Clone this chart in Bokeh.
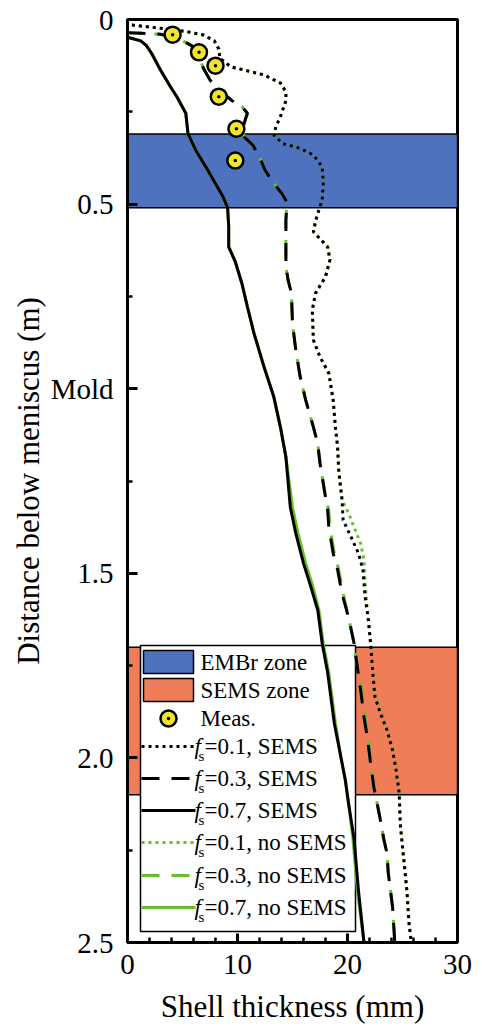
from bokeh.plotting import figure
from bokeh.models import Range1d, FixedTicker
from bokeh.core.properties import value
from bokeh.embed import file_html
from bokeh.resources import INLINE

SERIF = "Liberation Serif"
BLUE = "#4F72BE"
ORANGE = "#EE7D58"
YELLOW = "#F2E42A"
GREEN = "#66BF2A"

# ---- data -----------------------------------------------------------------
x_limits = [0, 30]          # shell thickness (mm)
y_limits = [2.5, 0]         # distance below meniscus (m), downward
x_ticks = [0, 10, 20, 30]
x_minor = [2, 4, 6, 8, 12, 14, 16, 18, 22, 24, 26, 28]
y_ticks = [0, 0.5, 1.0, 1.5, 2.0, 2.5]
y_minor = [0.25, 0.75, 1.25, 1.75, 2.25]
y_tick_labels = ["0", "0.5", "Mold", "1.5", "2.0", "2.5"]

embr_zone = [0.31, 0.51]
sems_zone = [1.70, 2.10]

meas_thick = [4.1, 6.5, 8.0, 8.3, 9.9, 9.8]
meas_depth = [0.041, 0.089, 0.125, 0.209, 0.296, 0.382]

# fs = 0.1, SEMS
depth_01_sems = [0.015, 0.022, 0.027, 0.033, 0.042, 0.058, 0.080, 0.105, 0.128, 0.137,
                 0.150, 0.172, 0.196, 0.220, 0.263, 0.290, 0.313, 0.336, 0.349, 0.367,
                 0.399, 0.443, 0.489, 0.516, 0.545, 0.575, 0.616, 0.651, 0.697, 0.741,
                 0.787, 0.868, 0.914, 0.958, 1.031, 1.104, 1.158, 1.221, 1.300, 1.356,
                 1.400, 1.446, 1.490, 1.564, 1.627, 1.690, 1.770, 1.835, 1.880, 1.925,
                 1.980, 2.030, 2.096, 2.180, 2.270, 2.360, 2.450, 2.500]
thick_01_sems = [0.4, 2.5, 3.9, 5.4, 6.9, 7.9, 8.3, 8.4, 9.4, 10.6,
                 12.4, 13.9, 14.4, 14.4, 13.9, 13.5, 13.3, 14.1, 15.7, 16.9,
                 17.7, 17.8, 17.7, 17.4, 17.1, 16.9, 18.2, 18.4, 18.0, 17.1,
                 16.8, 16.9, 17.5, 18.3, 18.7, 18.9, 19.1, 19.2, 19.5, 19.6,
                 20.3, 21.0, 21.4, 21.6, 21.9, 22.1, 22.3, 22.5, 23.0, 23.6,
                 24.1, 24.4, 24.7, 24.8, 25.1, 25.4, 25.6, 25.8]

# fs = 0.3, SEMS
depth_03_sems = [0.036, 0.037, 0.040, 0.050, 0.070, 0.100, 0.132, 0.164, 0.190, 0.220,
                 0.236, 0.254, 0.272, 0.295, 0.318, 0.340, 0.380, 0.408, 0.440, 0.470,
                 0.495, 0.543, 0.670, 0.706, 0.741, 0.823, 0.896, 0.968, 1.031, 1.104,
                 1.150, 1.202, 1.275, 1.330, 1.375, 1.446, 1.490, 1.555, 1.620, 1.690,
                 1.755, 1.817, 1.890, 1.943, 2.015, 2.080, 2.124, 2.170, 2.220, 2.260,
                 2.310, 2.405, 2.500]
thick_03_sems = [0.0, 1.3, 3.0, 4.5, 5.8, 6.5, 6.9, 7.5, 8.3, 9.5,
                 10.4, 10.9, 10.7, 10.5, 10.6, 11.4, 12.1, 12.5, 13.2, 14.0,
                 14.5, 14.4, 14.4, 14.6, 14.9, 15.0, 15.3, 15.7, 16.2, 16.9,
                 17.3, 17.5, 17.9, 18.2, 18.3, 18.7, 19.1, 19.5, 20.1, 20.6,
                 20.9, 21.2, 21.5, 21.8, 22.1, 22.4, 22.7, 23.0, 23.3, 23.6,
                 23.7, 24.1, 24.3]

# fs = 0.7, SEMS
depth_07_sems = [0.048, 0.058, 0.070, 0.092, 0.137, 0.182, 0.210, 0.254, 0.309, 0.354,
                 0.408, 0.481, 0.510, 0.560, 0.616, 0.656, 0.715, 0.778, 0.850, 0.940,
                 1.022, 1.104, 1.185, 1.321, 1.392, 1.473, 1.530, 1.600, 1.690, 1.770,
                 1.906, 1.998, 2.060, 2.124, 2.220, 2.360, 2.500]
thick_07_sems = [0.0, 1.2, 1.7, 2.2, 3.0, 3.9, 4.5, 5.3, 5.5, 6.2,
                 7.3, 8.7, 9.1, 9.2, 9.2, 9.8, 10.4, 10.9, 11.5, 12.4,
                 13.3, 13.9, 14.4, 14.8, 15.3, 16.0, 16.6, 17.3, 17.7, 18.2,
                 18.8, 19.4, 19.8, 20.1, 20.6, 21.0, 21.5]

# fs = 0.1, no SEMS
depth_01_none = [0.015, 0.022, 0.027, 0.033, 0.042, 0.058, 0.080, 0.105, 0.128, 0.137,
                 0.150, 0.172, 0.196, 0.220, 0.263, 0.290, 0.313, 0.336, 0.349, 0.367,
                 0.399, 0.443, 0.489, 0.516, 0.545, 0.575, 0.616, 0.651, 0.697, 0.741,
                 0.787, 0.868, 0.914, 0.958, 1.031, 1.104, 1.158, 1.221, 1.300, 1.338,
                 1.375, 1.420, 1.465, 1.520, 1.564, 1.627, 1.690, 1.770, 1.835, 1.880,
                 1.925, 1.980, 2.030, 2.096, 2.180, 2.270, 2.360, 2.450, 2.500]
thick_01_none = [0.4, 2.5, 3.9, 5.4, 6.9, 7.9, 8.3, 8.4, 9.4, 10.6,
                 12.4, 13.9, 14.4, 14.4, 13.9, 13.5, 13.3, 14.1, 15.7, 16.9,
                 17.7, 17.8, 17.7, 17.4, 17.1, 16.9, 18.2, 18.4, 18.0, 17.1,
                 16.8, 16.9, 17.5, 18.3, 18.7, 18.9, 19.1, 19.2, 19.5, 20.1,
                 20.6, 21.2, 21.5, 21.6, 21.7, 21.9, 22.1, 22.3, 22.6, 23.1,
                 23.6, 24.1, 24.4, 24.7, 24.8, 25.1, 25.4, 25.6, 25.8]

# fs = 0.3, no SEMS
depth_03_none = [0.036, 0.037, 0.040, 0.050, 0.070, 0.100, 0.132, 0.164, 0.190, 0.220,
                 0.236, 0.254, 0.272, 0.295, 0.318, 0.340, 0.380, 0.408, 0.440, 0.470,
                 0.495, 0.543, 0.670, 0.706, 0.741, 0.823, 0.896, 0.968, 1.031, 1.104,
                 1.150, 1.202, 1.275, 1.330, 1.375, 1.446, 1.490, 1.555, 1.620, 1.690,
                 1.755, 1.817, 1.890, 1.943, 2.015, 2.080, 2.124, 2.170, 2.220, 2.260,
                 2.310, 2.405, 2.500]
thick_03_none = [0.0, 1.3, 3.0, 4.5, 5.8, 6.5, 6.9, 7.5, 8.3, 9.5,
                 10.4, 10.9, 10.7, 10.5, 10.6, 11.4, 12.1, 12.5, 13.2, 14.0,
                 14.5, 14.4, 14.4, 14.6, 14.9, 15.0, 15.3, 15.7, 16.2, 16.9,
                 17.3, 17.5, 17.9, 18.3, 18.4, 18.8, 19.2, 19.6, 20.1, 20.6,
                 20.9, 21.3, 21.6, 21.9, 22.1, 22.4, 22.7, 23.0, 23.3, 23.6,
                 23.7, 24.1, 24.3]

# fs = 0.7, no SEMS
depth_07_none = [0.048, 0.058, 0.070, 0.092, 0.137, 0.182, 0.210, 0.254, 0.309, 0.354,
                 0.408, 0.481, 0.510, 0.560, 0.616, 0.656, 0.715, 0.778, 0.850, 0.940,
                 1.022, 1.104, 1.185, 1.321, 1.392, 1.473, 1.530, 1.600, 1.690, 1.770,
                 1.906, 1.998, 2.060, 2.124, 2.220, 2.360, 2.500]
thick_07_none = [0.0, 1.2, 1.7, 2.2, 3.0, 3.9, 4.5, 5.3, 5.5, 6.2,
                 7.3, 8.7, 9.1, 9.2, 9.2, 9.8, 10.4, 10.9, 11.5, 12.4,
                 13.3, 13.9, 14.4, 15.0, 15.5, 16.2, 16.8, 17.4, 17.8, 18.3,
                 18.9, 19.4, 19.8, 20.1, 20.5, 20.9, 21.5]

# ---- figure ---------------------------------------------------------------
LEFT, RIGHT, TOP, BOTTOM = 127, 25, 19, 87
W, H = 482, 1029
p = figure(width=W, height=H, output_backend="svg", toolbar_location=None,
           x_range=Range1d(*x_limits), y_range=Range1d(*y_limits),
           min_border_left=LEFT, min_border_right=RIGHT,
           min_border_top=TOP, min_border_bottom=BOTTOM)
p.grid.visible = False
p.outline_line_color = "black"
p.outline_line_width = 3
p.background_fill_color = "white"
p.border_fill_color = "white"

frame_w = W - LEFT - RIGHT
frame_h = H - TOP - BOTTOM


def sx(px):
    """screen x (page pixels) -> thickness units"""
    return x_limits[0] + (px - LEFT) / frame_w * (x_limits[1] - x_limits[0])


def sy(py):
    """screen y (page pixels) -> depth units"""
    return y_limits[1] + (py - TOP) / frame_h * (y_limits[0] - y_limits[1])


xa = p.xaxis[0]
xa.ticker = FixedTicker(ticks=x_ticks, minor_ticks=x_minor)
xa.axis_label = "Shell thickness (mm)"
xa.major_label_standoff = 12
xa.axis_label_standoff = 12
xa.major_tick_in = 9
xa.minor_tick_in = 5

ya = p.yaxis[0]
ya.ticker = FixedTicker(ticks=y_ticks, minor_ticks=y_minor)
ya.major_label_overrides = {t: lab for t, lab in zip(y_ticks, y_tick_labels)}
ya.axis_label = "Distance below meniscus (m)"
ya.major_label_standoff = 14
ya.axis_label_standoff = 2
ya.major_tick_in = 10
ya.minor_tick_in = 5

for ax in (xa, ya):
    ax.major_tick_out = 0
    ax.minor_tick_out = 0
    ax.major_tick_line_width = 3
    ax.minor_tick_line_width = 2.5
    ax.axis_line_width = 3
    ax.axis_line_color = "black"
    ax.major_label_text_font = SERIF
    ax.major_label_text_font_size = "29px"
    ax.major_label_text_color = "black"
    ax.axis_label_text_font = SERIF
    ax.axis_label_text_font_size = "31px"
    ax.axis_label_text_font_style = "normal"
    ax.axis_label_text_color = "black"

# ---- zones ----------------------------------------------------------------
p.quad(left=x_limits[0], right=x_limits[1], top=embr_zone[0], bottom=embr_zone[1],
       fill_color=BLUE, line_color="black", line_width=1.5)
p.quad(left=x_limits[0], right=x_limits[1], top=sems_zone[0], bottom=sems_zone[1],
       fill_color=ORANGE, line_color="black", line_width=1.5)

# ---- legend (drawn by hand so f_s can carry its subscript) ----------------
p.quad(left=sx(140), right=sx(355), top=sy(645), bottom=sy(931),
       fill_color="white", line_color="black", line_width=1.5)

rows = [661.5, 689.5, 718, 746, 778, 810, 842, 875, 907]
p.quad(left=sx(143), right=sx(193), top=sy(rows[0] - 11.5), bottom=sy(rows[0] + 11.5),
       fill_color=BLUE, line_color="black", line_width=1.5)
p.quad(left=sx(143), right=sx(193), top=sy(rows[1] - 11.5), bottom=sy(rows[1] + 11.5),
       fill_color=ORANGE, line_color="black", line_width=1.5)
p.scatter([sx(168)], [sy(rows[2])], size=16, fill_color=YELLOW, line_color="black", line_width=2.5)
p.scatter([sx(168)], [sy(rows[2])], size=3.5, fill_color="black", line_color=None)

styles = [("black", "3 4"), ("black", "18 12"), ("black", "solid"),
          (GREEN, "3 4"), (GREEN, "18 12"), (GREEN, "solid")]
for row, (col, dash) in zip(rows[3:], styles):
    p.line([sx(141), sx(195)], [sy(row), sy(row)], line_color=col, line_dash=dash, line_width=3)

text_kw = dict(text_font=value(SERIF), text_baseline="middle", text_align="left", text_color="black")
p.text([sx(200)] * 3, [sy(r) for r in rows[:3]], text=["EMBr zone", "SEMS zone", "Meas."],
       text_font_size=value("23px"), **text_kw)
fs_labels = ["=0.1, SEMS", "=0.3, SEMS", "=0.7, SEMS",
             "=0.1, no SEMS", "=0.3, no SEMS", "=0.7, no SEMS"]
p.text([sx(194)] * 6, [sy(r) for r in rows[3:]], text=["f"] * 6,
       text_font_size=value("23px"), text_font_style="italic", **text_kw)
p.text([sx(198)] * 6, [sy(r + 9) for r in rows[3:]], text=["s"] * 6,
       text_font_size=value("15px"), **text_kw)
p.text([sx(204)] * 6, [sy(r) for r in rows[3:]], text=fs_labels,
       text_font_size=value("23px"), **text_kw)

# ---- shell thickness profiles --------------------------------------------
p.line(thick_01_none, depth_01_none, line_color=GREEN, line_width=3, line_dash="3 4")
p.line(thick_03_none, depth_03_none, line_color=GREEN, line_width=3, line_dash="18 12", line_dash_offset=3)
p.line(thick_07_none, depth_07_none, line_color=GREEN, line_width=3)

p.line(thick_01_sems, depth_01_sems, line_color="black", line_width=3, line_dash="3 4")
p.line(thick_03_sems, depth_03_sems, line_color="black", line_width=3, line_dash="18 12")
p.line(thick_07_sems, depth_07_sems, line_color="black", line_width=3)

# ---- measurements ---------------------------------------------------------
p.scatter(meas_thick, meas_depth, size=16, fill_color=YELLOW, line_color="black", line_width=2.5)
p.scatter(meas_thick, meas_depth, size=3.5, fill_color="black", line_color=None)

open("out.html", "w").write(file_html(p, INLINE))
